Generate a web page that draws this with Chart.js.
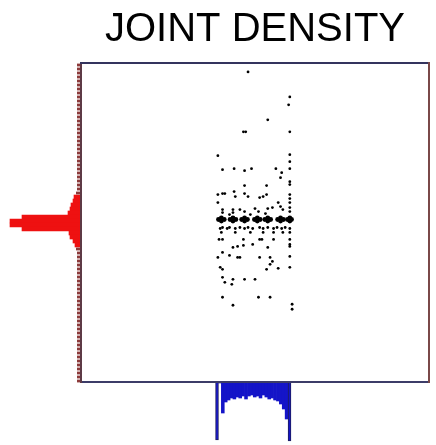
<!DOCTYPE html>
<html>
<head>
<meta charset="utf-8">
<title>Joint density</title>
<script src="https://cdn.jsdelivr.net/npm/chart.js@4.4.1/dist/chart.umd.min.js"></script>
<style>
    html, body { margin: 0; padding: 0; background: #fff; }
    #wrap { position: relative; width: 436px; height: 445px; overflow: hidden; }
    #wrap canvas { position: absolute; }
    #jointChart { left: 0; top: 0; }
    #rowMargin { left: 0; top: 63px; }
    #colMargin { left: 81px; top: 383px; }
</style>
</head>
<body>
<div id="wrap">
    <canvas id="jointChart" width="436" height="445"></canvas>
    <canvas id="rowMargin" width="80" height="320"></canvas>
    <canvas id="colMargin" width="348" height="62"></canvas>
</div>
<script>
// axis ranges shared by the joint plot and its marginals
const X_MIN = -0.1, X_MAX = 29.9;
const Y_MIN = 0, Y_MAX = 32;

// scattered observations [x, y]
const scatterPoints = [
    [14.3, 31.1], [17.9, 28.6], [17.8, 27.8], [16.0, 26.3], [13.9, 25.1], [14.1, 25.1], [17.9, 25.1],
    [11.7, 22.7], [17.9, 22.8], [17.9, 22.1], [12.1, 21.3], [13.1, 21.4], [14.0, 21.2], [14.6, 21.4],
    [16.7, 21.4], [17.2, 21.0], [17.9, 21.4], [17.1, 20.5], [17.9, 20.1], [17.9, 19.8], [14.0, 19.7],
    [15.9, 19.7], [13.1, 19.1], [11.7, 18.8], [12.1, 18.9], [12.3, 18.9], [13.2, 18.6], [14.0, 18.9],
    [14.3, 18.6], [15.3, 18.5], [15.6, 18.6], [15.9, 18.8], [17.9, 18.8], [17.9, 18.4], [11.7, 18.0],
    [16.9, 18.0], [17.9, 18.0],
    [12.1, 17.3], [12.1, 17.0], [13.0, 17.3], [13.0, 17.0], [13.6, 17.3], [14.0, 17.1], [14.9, 17.4],
    [15.2, 17.1], [16.0, 17.4], [16.4, 17.5], [17.1, 17.6], [17.3, 17.3], [17.9, 17.5], [17.9, 17.1],
    [12.7, 16.8], [14.5, 16.8], [15.8, 16.9],
    [11.9, 15.4], [12.1, 15.5], [12.5, 15.4], [12.7, 15.5], [13.2, 15.4], [13.6, 15.5], [14.0, 15.4],
    [14.3, 15.5], [14.7, 15.4], [15.3, 15.5], [15.6, 15.4], [16.0, 15.5], [16.5, 15.4], [16.8, 15.5],
    [17.2, 15.4], [17.5, 15.5], [17.9, 15.4],
    [12.0, 15.0], [13.2, 15.0], [14.5, 15.0], [15.6, 15.0], [16.5, 15.0], [17.3, 15.0], [17.9, 15.0],
    [12.1, 14.3], [13.9, 14.3], [15.3, 14.3], [16.5, 14.3], [17.9, 14.3], [11.8, 14.3], [15.5, 14.3],
    [17.9, 13.8], [13.0, 13.5], [13.4, 13.6], [13.9, 13.7], [14.7, 13.8], [16.0, 13.5], [17.9, 13.6],
    [12.1, 13.0], [12.7, 12.7], [11.7, 12.5], [13.4, 12.5], [13.6, 12.5], [15.3, 12.5], [16.2, 12.5],
    [16.4, 12.1], [17.9, 12.6], [11.9, 11.5], [12.1, 11.3], [15.9, 11.3], [16.2, 11.8], [16.9, 11.4],
    [17.9, 11.5], [12.1, 10.5], [13.0, 10.3], [14.0, 10.3], [14.9, 10.3], [12.9, 9.8], [12.3, 10.0],
    [12.1, 8.5], [15.2, 8.5], [16.2, 8.5], [13.0, 7.7], [18.1, 7.8], [18.1, 7.3]
];

// heavily overplotted row near y = 16.3
const denseRowPoints = [
    [11.75, 16.3], [12.25, 16.3], [12.0, 16.45], [12.0, 16.15],
    [12.75, 16.3], [13.25, 16.3], [13.0, 16.45], [13.0, 16.15],
    [13.75, 16.3], [14.25, 16.3], [14.0, 16.45], [14.0, 16.15],
    [14.85, 16.3], [15.35, 16.3], [15.1, 16.45], [15.1, 16.15],
    [15.75, 16.3], [16.25, 16.3], [16.0, 16.45], [16.0, 16.15],
    [16.85, 16.3], [17.35, 16.3], [17.1, 16.45], [17.1, 16.15],
    [17.7, 16.3], [18.05, 16.3], [17.9, 16.45], [17.9, 16.15]
];

// marginal of y: 80 bins of 0.4, listed from the top of the range down
const ROW_BIN = 0.4;
const rowCounts = [
    3, 3, 3, 3, 3, 3, 3, 3, 3, 3,
    3, 3, 3, 3, 3, 3, 3, 3, 3, 3,
    3, 3, 3, 3, 3, 3, 3, 3, 3, 3,
    3, 3, 4, 6, 7, 9, 10, 12, 58, 70,
    70, 58, 11, 10, 7, 5, 4, 3, 3, 3,
    3, 3, 3, 3, 3, 3, 3, 3, 3, 3,
    3, 3, 3, 3, 3, 3, 3, 3, 3, 3,
    3, 3, 3, 3, 3, 3, 3, 3, 3, 3
];

// marginal of x: bins of 0.25 starting at 11.5
const COL_START = 11.5, COL_BIN = 0.25;
const colCounts = [
    57, 0, 30, 19, 17, 15, 16, 14, 15, 13, 16, 13, 12,
    14, 13, 15, 12, 14, 16, 15, 17, 18, 21, 26, 36, 58
];

(function () {
    "use strict";

    const hidden = { display: false };

    function frameAxis(position, min, max, color) {
        return {
            type: 'linear',
            position: position,
            min: min,
            max: max,
            ticks: { display: false },
            grid: { display: false, drawTicks: false },
            border: { display: true, color: color, width: 2 }
        };
    }

    function toXY(pairs) {
        return pairs.map(p => ({ x: p[0], y: p[1] }));
    }

    // joint scatter with the framed plotting box
    new Chart(document.getElementById('jointChart'), {
        type: 'scatter',
        data: {
            datasets: [{
                data: toXY(scatterPoints),
                pointRadius: 1.4,
                pointBackgroundColor: '#000',
                pointBorderWidth: 0
            }, {
                data: toXY(denseRowPoints),
                pointRadius: 2.4,
                pointBackgroundColor: '#000',
                pointBorderWidth: 0
            }]
        },
        options: {
            responsive: false,
            animation: false,
            layout: { padding: { left: 81, right: 7, top: 6, bottom: 63 } },
            plugins: {
                legend: hidden,
                tooltip: { enabled: false },
                title: {
                    display: true,
                    text: 'JOINT DENSITY',
                    color: '#000',
                    font: { family: "'Liberation Sans', Arial, sans-serif", size: 40, weight: 'normal', lineHeight: 1.2 },
                    padding: { top: 0, bottom: 9 }
                }
            },
            scales: {
                x: frameAxis('bottom', X_MIN, X_MAX, '#3c3c68'),
                y: frameAxis('left', Y_MIN, Y_MAX, '#5e3a46'),
                xTop: frameAxis('top', X_MIN, X_MAX, '#34345e'),
                yRight: frameAxis('right', Y_MIN, Y_MAX, '#7a4848')
            }
        }
    });

    // y marginal, bars growing to the left
    const rowCenter = i => Y_MAX - (i + 0.5) * ROW_BIN;
    const rowTail = rowCounts.map((v, i) => ({ x: v <= 4 ? v : null, y: rowCenter(i) }));
    const rowPeak = rowCounts.map((v, i) => ({ x: v > 4 ? v : null, y: rowCenter(i) }));

    new Chart(document.getElementById('rowMargin'), {
        type: 'bar',
        data: {
            datasets: [{
                data: rowTail,
                backgroundColor: '#8c3a3a',
                barPercentage: 0.7,
                categoryPercentage: 1,
                grouped: false
            }, {
                data: rowPeak,
                backgroundColor: '#ee1111',
                barPercentage: 1,
                categoryPercentage: 1,
                grouped: false
            }]
        },
        options: {
            indexAxis: 'y',
            responsive: false,
            animation: false,
            layout: { padding: 0 },
            plugins: { legend: hidden, tooltip: { enabled: false } },
            scales: {
                x: { type: 'linear', min: 0, max: 80, reverse: true, display: false },
                y: { type: 'linear', min: Y_MIN, max: Y_MAX, offset: false, display: false }
            }
        }
    });

    // x marginal, bars hanging below the box
    const colData = colCounts.map((v, i) => ({ x: COL_START + (i + 0.5) * COL_BIN, y: v }));

    new Chart(document.getElementById('colMargin'), {
        type: 'bar',
        data: {
            datasets: [{
                data: colData,
                backgroundColor: '#1414c8',
                borderColor: '#1e1e5c',
                borderWidth: ctx => (ctx.raw && ctx.raw.y > 40 ? 1 : 0),
                barPercentage: 1,
                categoryPercentage: 1
            }]
        },
        options: {
            responsive: false,
            animation: false,
            layout: { padding: 0 },
            plugins: { legend: hidden, tooltip: { enabled: false } },
            scales: {
                x: { type: 'linear', min: X_MIN, max: X_MAX, offset: false, display: false },
                y: { type: 'linear', min: 0, max: 62, reverse: true, display: false }
            }
        }
    });
})();
</script>
</body>
</html>
